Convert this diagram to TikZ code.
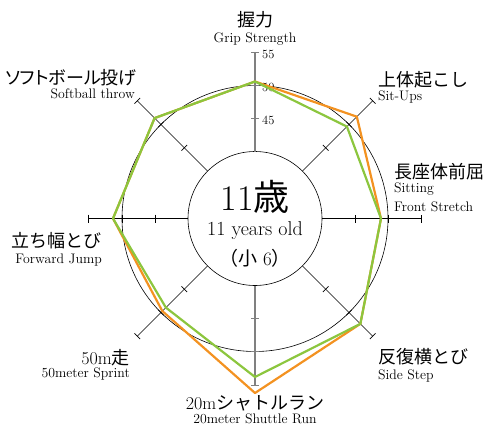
\documentclass[tikz,border=0pt]{standalone}
\usepackage{fontspec}
\newfontfamily\jp{Noto Sans CJK JP}
\newfontfamily\jpp[RawFeature=+palt]{Noto Sans CJK JP}
\definecolor{runorange}{HTML}{F39221}
\definecolor{rungreen}{HTML}{8CC63E}
\begin{document}
\begin{tikzpicture}[x=1pt,y=1pt,
    jlabel/.style={inner sep=0pt,font=\fontsize{18}{18}\selectfont},
    elabel/.style={inner sep=0pt,font=\fontsize{13.8}{13.8}\selectfont},
    thinaxis/.style={black,line width=0.7pt},
    mainaxis/.style={gray,line width=1.5pt},
    score/.style={line width=2.2pt,line join=round}]
      \useasboundingbox (-255,-207.5) rectangle (234,218.5);

      \draw[line width=0.6pt] (0,0) circle (67pt);
      \draw[line width=0.6pt] (0,0) circle (133pt);

      \foreach \a in {45,0,-45,-135,180,135} {
          \draw[thinaxis,rotate=\a] (67,0) -- (166.5,0);
          \foreach \r in {100,133,166.5}
            \draw[thinaxis,rotate=\a] (\r,-4) -- (\r,4);
        }
      \foreach \a in {90,-90} {
          \draw[mainaxis,rotate=\a] (67,0) -- (166.5,0);
          \foreach \r in {100,133,166.5}
            \draw[mainaxis,line width=1pt,rotate=\a] (\r,-4) -- (\r,4);
        }
      \foreach \v/\r in {55/166.5,50/133,45/100}
        \node[inner sep=0pt,anchor=west,font=\fontsize{12.5}{12.5}\selectfont] (v\v) at (7,\r-2) {\v};

      \draw[score,runorange] (90:137) -- (45:144) -- (0:126) -- (-45:149) -- (-90:174.5)
        -- (-135:131) -- (180:142) -- (135:142) -- cycle;
      \draw[score,rungreen] (90:137) -- (45:130) -- (0:126) -- (-45:149) -- (-90:158.5)
        -- (-135:126) -- (180:142) -- (135:142) -- cycle;

      \node[jlabel,anchor=base] (grip) at (0,192.5) {\jp 握力};
      \node[elabel,anchor=base] (gripen) at (0,176.5) {Grip Strength};
      \node[jlabel,anchor=base west] (situp) at (123,132.5) {\jp 上体起こし};
      \node[elabel,anchor=base west] (situpen) at (123,118.5) {Sit-Ups};
      \node[jlabel,anchor=base west] (stretch) at (139,40.5) {\jp 長座体前屈};
      \node[elabel,anchor=base west] (stretchen) at (139,26.5) {Sitting};
      \node[elabel,anchor=base west] (stretchen2) at (139,7.5) {Front Stretch};
      \node[jlabel,anchor=base west] (side) at (123,-144.5) {\jp 反復横とび};
      \node[elabel,anchor=base west] (sideen) at (123,-160.5) {Side Step};
      \node[jlabel,anchor=base] (shuttle) at (0,-190.5) {20m{\jp シャトルラン}};
      \node[elabel,anchor=base] (shuttleen) at (0,-204.5) {20meter Shuttle Run};
      \node[jlabel,anchor=base east] (sprint) at (-125,-145.5) {50m{\jp 走}};
      \node[elabel,anchor=base east] (sprinten) at (-125,-158.5) {50meter Sprint};
      \node[jlabel,anchor=base east] (jump) at (-153,-28.5) {\jp 立ち幅とび};
      \node[elabel,anchor=base east] (jumpen) at (-153,-44.5) {Forward Jump};
      \node[jlabel,anchor=base east] (throw) at (-118,134.5) {\jpp ソフトボール投げ};
      \node[elabel,anchor=base east] (throwen) at (-120,120.5) {Softball throw};

      \node[inner sep=0pt,anchor=base,font=\fontsize{36}{36}\selectfont] (age) at (0,8.5) {11{\jp 歳}};
      \node[inner sep=0pt,anchor=base,font=\fontsize{20}{20}\selectfont] (ageen) at (0,-16.5) {11 years old};
      \node[inner sep=0pt,anchor=base,font=\fontsize{19}{19}\selectfont] (grade) at (0,-46.5) {{\jp （小}\ 6{\jp ）}};
    \end{tikzpicture}
\end{document}
